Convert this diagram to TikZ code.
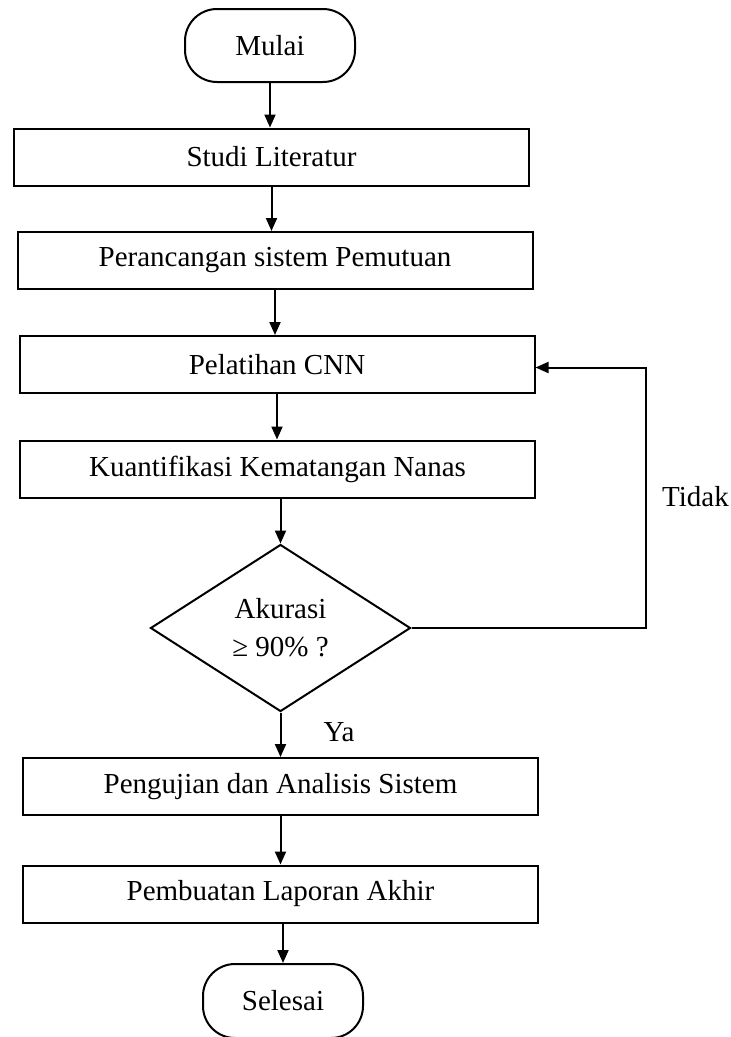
\documentclass[tikz,border=0pt]{standalone}
\usepackage{fontspec}
\setmainfont{Liberation Serif}
\usetikzlibrary{shapes.geometric,arrows.meta}

\tikzset{
  base/.style={draw=black, line width=2pt, inner sep=0pt,
    font=\fontsize{29}{38}\selectfont, align=center},
  procbox/.style={base, rectangle, minimum width=515pt, minimum height=57pt},
  terminal/.style={base, rectangle, rounded corners=32pt},
  decision/.style={base, diamond, minimum width=260pt, minimum height=167pt, aspect=1.56},
  arr/.style={line width=2pt, -{Triangle[length=13pt,width=11pt]}},
  lbl/.style={font=\fontsize{29}{38}\selectfont, inner sep=0pt}
}

\begin{document}
\begin{tikzpicture}[x=1pt, y=-1pt]
  \useasboundingbox (0,0) rectangle (731,1037);
  \clip (0,0) rectangle (731,1037);

  % flow steps
  \node[terminal, minimum width=170pt, minimum height=73pt] (mulai) at (270,45.5) {Mulai};
  \node[procbox] (studi) at (271.5,157) {Studi Literatur};
  \node[procbox] (rancang) at (275,260.5) {Perancangan sistem Pemutuan};
  \node[procbox] (latih) at (277,364.5) {Pelatihan CNN};
  \node[procbox] (kuant) at (277.5,469) {Kuantifikasi Kematangan Nanas};
  \node[decision] (dec) at (280.5,628) {Akurasi\\ ≥ 90\% ?};
  \node[procbox] (uji) at (280.5,786.5) {Pengujian dan Analisis Sistem};
  \node[procbox] (lapor) at (280.5,894) {Pembuatan Laporan Akhir};
  \node[terminal, minimum width=160pt, minimum height=74pt] (selesai) at (283,1001) {Selesai};

  % branch labels
  \node[lbl] (ya) at (339,732) {Ya};
  \node[lbl] (tidak) at (695.5,497) {Tidak};

  % corner of the return loop
  \coordinate (loop) at (646,628);

  % connectors
  \draw[arr] (mulai.south) -- (mulai.south |- studi.north);
  \draw[arr] (studi.south) -- (studi.south |- rancang.north);
  \draw[arr] (rancang.south) -- (rancang.south |- latih.north);
  \draw[arr] (latih.south) -- (latih.south |- kuant.north);
  \draw[arr] (kuant.south -| dec.north) -- (dec.north);
  \draw[arr] (dec.south) -- (dec.south |- uji.north);
  \draw[arr] (uji.south) -- (uji.south |- lapor.north);
  \draw[arr] (lapor.south -| selesai.north) -- (selesai.north);
  \draw[arr] (dec.east) -- (dec.east -| loop) -- ([yshift=-3pt]loop |- latih.east) -- ([yshift=-3pt]latih.east);
\end{tikzpicture}
\end{document}
